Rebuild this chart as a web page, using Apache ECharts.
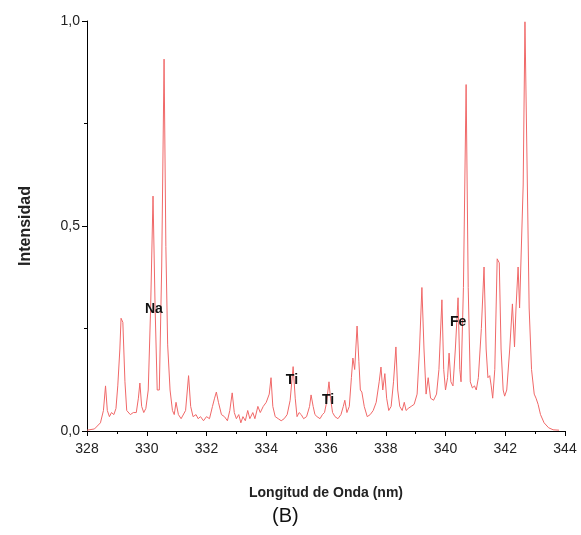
<!DOCTYPE html>
<html>
<head>
<meta charset="utf-8">
<script src="https://cdn.jsdelivr.net/npm/echarts@6/dist/echarts.min.js"></script>
<style>
  html, body { margin: 0; padding: 0; background: #fff; }
  #chart { width: 581px; height: 535px; }
</style>
</head>
<body>
<div id="chart"></div>
<script>
// spectrum: wavelength (nm) and intensity
const wavelength = [
  328.00, 328.25, 328.45, 328.55, 328.62, 328.68, 328.75, 328.82, 328.90, 328.97,
  329.03, 329.10, 329.14, 329.20, 329.27, 329.33, 329.45, 329.55, 329.65, 329.72,
  329.77, 329.83, 329.90, 329.97, 330.05, 330.13, 330.21, 330.28, 330.35, 330.42,
  330.50, 330.58, 330.64, 330.70, 330.78, 330.86, 330.92, 330.98, 331.06, 331.15,
  331.30, 331.40, 331.47, 331.55, 331.65, 331.72, 331.80, 331.90, 332.00, 332.10,
  332.20, 332.27, 332.33, 332.40, 332.50, 332.60, 332.70, 332.78, 332.86, 332.93,
  333.00, 333.08, 333.15, 333.22, 333.30, 333.38, 333.45, 333.55, 333.62, 333.72,
  333.80, 333.90, 334.00, 334.10, 334.16, 334.22, 334.30, 334.40, 334.50, 334.60,
  334.70, 334.80, 334.90, 334.97, 335.03, 335.10, 335.17, 335.25, 335.35, 335.45,
  335.50, 335.57, 335.63, 335.70, 335.80, 335.88, 335.95, 336.02, 336.10, 336.15,
  336.22, 336.30, 336.40, 336.50, 336.58, 336.63, 336.70, 336.78, 336.85, 336.90,
  336.96, 337.04, 337.10, 337.15, 337.20, 337.28, 337.38, 337.48, 337.58, 337.68,
  337.78, 337.84, 337.90, 337.97, 338.03, 338.10, 338.18, 338.26, 338.34, 338.40,
  338.47, 338.55, 338.62, 338.68, 338.75, 338.85, 338.95, 339.05, 339.13, 339.21,
  339.28, 339.35, 339.42, 339.50, 339.60, 339.70, 339.78, 339.88, 339.94, 340.00,
  340.07, 340.12, 340.18, 340.25, 340.33, 340.42, 340.48, 340.52, 340.60, 340.69,
  340.76, 340.83, 340.90, 340.97, 341.03, 341.10, 341.20, 341.29, 341.36, 341.42,
  341.48, 341.53, 341.58, 341.65, 341.73, 341.80, 341.86, 341.93, 341.98, 342.05,
  342.15, 342.24, 342.31, 342.36, 342.43, 342.48, 342.53, 342.60, 342.66, 342.72,
  342.80, 342.88, 342.97, 343.03, 343.10, 343.18, 343.30, 343.45, 343.60, 343.80
];
const intensity = [
  0.002, 0.005, 0.020, 0.050, 0.110, 0.050, 0.035, 0.045, 0.040, 0.055,
  0.110, 0.200, 0.275, 0.265, 0.120, 0.050, 0.040, 0.045, 0.045, 0.080,
  0.117, 0.060, 0.045, 0.055, 0.100, 0.300, 0.573, 0.300, 0.100, 0.100,
  0.400, 0.907, 0.450, 0.210, 0.100, 0.050, 0.040, 0.070, 0.040, 0.030,
  0.050, 0.135, 0.060, 0.035, 0.040, 0.030, 0.035, 0.025, 0.035, 0.030,
  0.060, 0.080, 0.095, 0.070, 0.040, 0.035, 0.025, 0.050, 0.093, 0.045,
  0.030, 0.040, 0.020, 0.035, 0.025, 0.050, 0.030, 0.045, 0.030, 0.060,
  0.045, 0.060, 0.070, 0.090, 0.130, 0.060, 0.035, 0.030, 0.025, 0.030,
  0.040, 0.075, 0.157, 0.080, 0.035, 0.045, 0.040, 0.030, 0.035, 0.060,
  0.088, 0.060, 0.040, 0.035, 0.030, 0.040, 0.045, 0.070, 0.120, 0.080,
  0.045, 0.035, 0.030, 0.040, 0.060, 0.075, 0.045, 0.060, 0.130, 0.178,
  0.150, 0.256, 0.170, 0.100, 0.095, 0.060, 0.035, 0.040, 0.050, 0.070,
  0.120, 0.156, 0.100, 0.140, 0.080, 0.050, 0.060, 0.120, 0.205, 0.100,
  0.060, 0.050, 0.070, 0.050, 0.055, 0.060, 0.065, 0.090, 0.200, 0.350,
  0.200, 0.090, 0.130, 0.080, 0.075, 0.090, 0.150, 0.320, 0.150, 0.100,
  0.130, 0.190, 0.120, 0.110, 0.200, 0.325, 0.150, 0.120, 0.350, 0.845,
  0.350, 0.120, 0.105, 0.110, 0.100, 0.130, 0.250, 0.400, 0.200, 0.130,
  0.135, 0.110, 0.080, 0.150, 0.420, 0.410, 0.200, 0.100, 0.085, 0.100,
  0.200, 0.310, 0.205, 0.300, 0.400, 0.300, 0.300, 0.600, 0.998, 0.700,
  0.300, 0.150, 0.090, 0.080, 0.065, 0.040, 0.020, 0.008, 0.003, 0.002
];

// element labels and where they sit (data units)
const elementNames = ['Na', 'Ti', 'Ti', 'Fe'];
const elementPos = [[330.24, 0.298], [334.86, 0.124], [336.07, 0.076], [340.42, 0.266]];

const xTicks = [328, 330, 332, 334, 336, 338, 340, 342, 344];
const yTicks = [0, 0.5, 1];

const font = 'Liberation Sans, Arial, sans-serif';
const chart = echarts.init(document.getElementById('chart'));

const option = {
    animation: false,
    grid: {
        left: 87,
        right: 16,
        top: 21,
        bottom: 104,
    },
    xAxis: {
        type: 'value',
        min: xTicks[0],
        max: xTicks[xTicks.length - 1],
        interval: 2,
        name: 'Longitud de Onda (nm)',
        nameLocation: 'middle',
        nameGap: 55,
        nameTextStyle: { fontFamily: font, fontWeight: 'bold', fontSize: 14, color: '#222' },
        axisLine: { lineStyle: { color: '#000', width: 1 } },
        axisTick: { length: 5, lineStyle: { color: '#000' } },
        minorTick: { show: true, splitNumber: 2, length: 3, lineStyle: { color: '#000' } },
        splitLine: { show: false },
        axisLabel: { fontFamily: font, fontSize: 14, color: '#222', margin: 11 },
    },
    yAxis: {
        type: 'value',
        min: yTicks[0],
        max: yTicks[yTicks.length - 1],
        interval: 0.5,
        name: 'Intensidad',
        nameLocation: 'middle',
        nameGap: 53,
        nameTextStyle: { fontFamily: font, fontWeight: 'bold', fontSize: 16, color: '#222' },
        axisLine: { show: true, lineStyle: { color: '#000', width: 1 } },
        axisTick: { show: true, length: 5, lineStyle: { color: '#000' } },
        minorTick: { show: true, splitNumber: 2, length: 3, lineStyle: { color: '#000' } },
        splitLine: { show: false },
        axisLabel: {
            fontFamily: font, fontSize: 14, color: '#222', margin: 7,
            formatter: (v) => v.toFixed(1).replace('.', ','),
        },
    },
    graphic: [{
        type: 'text',
        left: 272,
        top: 506,
        style: { text: '(B)', fontFamily: font, fontSize: 20, fill: '#111' },
    }],
    series: [
        {
            type: 'line',
            data: _zip(wavelength, intensity),
            symbol: 'none',
            lineStyle: { color: '#f06868', width: 1 },
            markPoint: {
                symbol: 'circle',
                symbolSize: 0,
                label: {
                    show: true,
                    position: 'inside',
                    fontFamily: font,
                    fontWeight: 'bold',
                    fontSize: 14,
                    color: '#111',
                    formatter: (p) => p.name,
                },
                data: elementNames.map((n, i) => ({ name: n, coord: elementPos[i] })),
            },
        },
    ],
};

function _zip(a, b) {
    return a.map((v, i) => [v, b[i]]);
}

chart.setOption(option);
</script>
</body>
</html>
